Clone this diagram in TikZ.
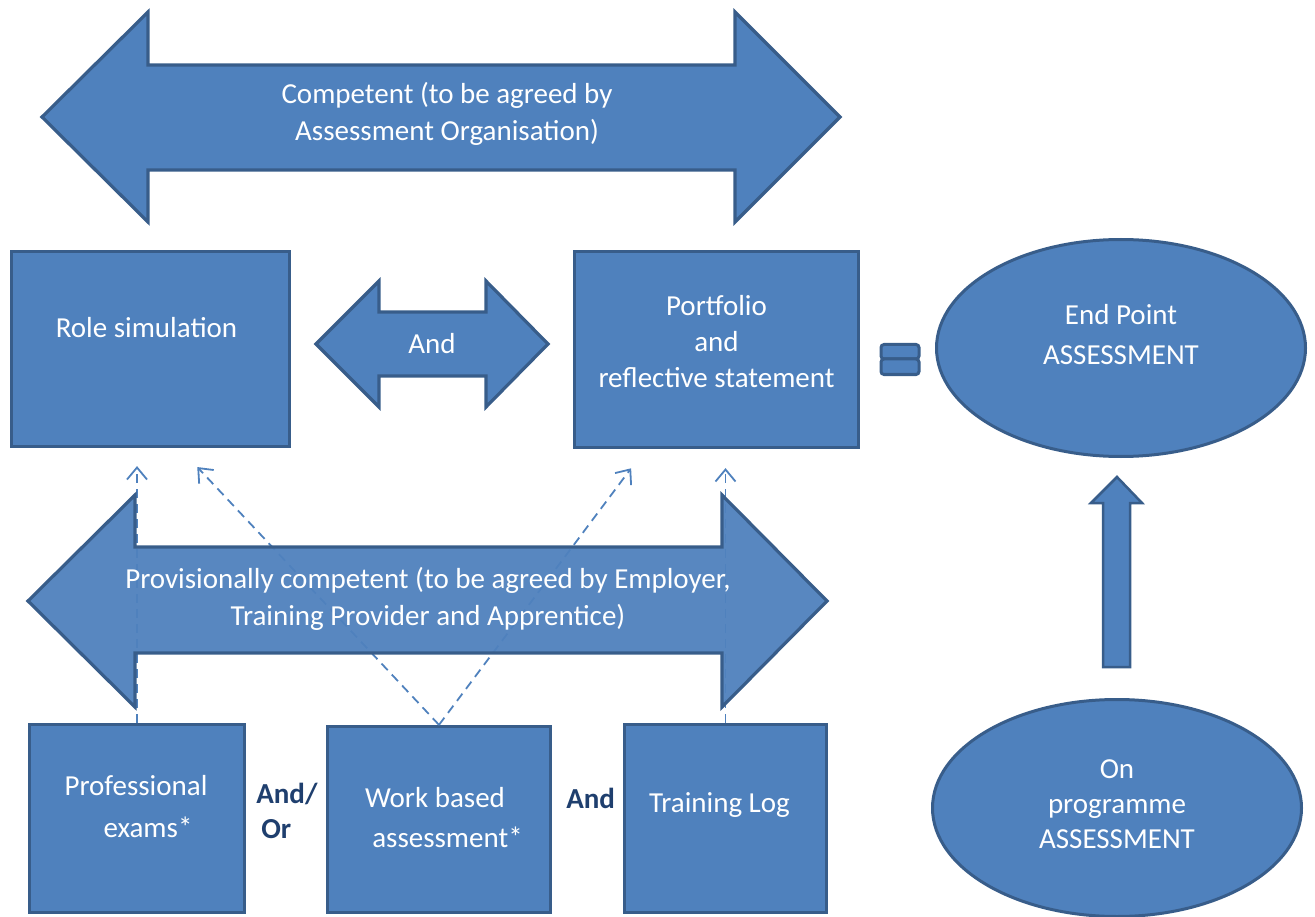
\documentclass[tikz,border=0pt]{standalone}
\usepackage{fontspec}
\setmainfont{Carlito}
\usepackage{xcolor}
\definecolor{ShapeBlue}{HTML}{4F81BD}
\definecolor{ShapeEdge}{HTML}{385D8A}
\definecolor{NavyText}{HTML}{1F3F6E}
\usepackage{tikz}
\usetikzlibrary{arrows.meta,positioning,shapes.geometric}

\begin{document}
\begin{tikzpicture}[
  x=1pt, y=-1pt,
  box/.style={rectangle, draw=ShapeEdge, fill=ShapeBlue, line width=3.2pt, inner sep=0pt},
  oval/.style={ellipse, draw=ShapeEdge, fill=ShapeBlue, line width=3pt, inner sep=0pt, minimum width=369pt, minimum height=217pt},
  txt/.style={text=white, align=center, font=\fontsize{29}{37}\selectfont},
  bigarrow/.style={draw=ShapeEdge, fill=ShapeBlue, line width=3.2pt},
  eqbar/.style={draw=ShapeEdge, fill=ShapeBlue, line width=3pt, rounded corners=3pt},
  link/.style={dash pattern=on 9pt off 6pt, line width=1.8pt, draw=ShapeBlue, -{Straight Barb[length=12pt,width=20pt]}},
  joiner/.style={font=\bfseries\fontsize{29}{35}\selectfont, text=NavyText, align=left, inner sep=0pt},
]
\useasboundingbox (0,0) rectangle (1315,917);

% competent arrow
\draw[bigarrow] (42,117) -- (148,12) -- (148,65) -- (735,65) -- (735,12) -- (840,117)
  -- (735,222) -- (735,170) -- (148,170) -- (148,222) -- cycle;
\node[txt] (competent) at (447,114) {Competent (to be agreed by\\Assessment Organisation)};

% middle row
\node[box, minimum width=278pt, minimum height=195pt,
  label={[txt, xshift=-4pt, yshift=21pt]center:Role simulation}] (rolesim) at (150.5,349) {};
\node[box, minimum width=284pt, minimum height=196pt,
  label={[txt, yshift=8pt, font=\fontsize{29}{36}\selectfont]center:Portfolio\\and\\reflective statement}] (portfolio) at (716.5,349.5) {};
\draw[bigarrow] (316,344) -- (379,281) -- (379,312) -- (486,312) -- (486,281) -- (548,344)
  -- (486,407) -- (486,376) -- (379,376) -- (379,407) -- cycle;
\node[txt] (andlink) at (432,344) {And};
\draw[eqbar] (881,344.5) rectangle (919,359);
\draw[eqbar] (881,359) rectangle (919,374.5);
\node[oval, label={[txt, yshift=13pt, font=\fontsize{29}{40}\selectfont]center:End Point\\ASSESSMENT}] (endpoint) at (1121,348) {};

% bottom row
\node[box, minimum width=215pt, minimum height=188pt,
  label={[txt, xshift=-1pt, yshift=12pt, font=\fontsize{29}{42}\selectfont]center:Professional\\\hspace*{24pt}exams*}] (pexam) at (137,818.5) {};
\node[box, minimum width=223pt, minimum height=186pt,
  label={[txt, xshift=-4pt, yshift=2pt, font=\fontsize{29}{40}\selectfont]center:Work based\\\hspace*{25pt}assessment*}] (wba) at (439,819.5) {};
\node[box, minimum width=202pt, minimum height=188pt,
  label={[txt, xshift=-6pt, yshift=13pt]center:Training Log}] (tlog) at (725.5,818.5) {};
\node[joiner, right=10pt of pexam.east, yshift=8pt] (andor) {And/\\\hspace*{5pt}Or};
\node[joiner, right=14pt of wba.east, yshift=21pt] (andtwo) {And};

% dashed links
\draw[link, shorten >=18pt] (pexam.north) -- (pexam.north |- rolesim.south);
\draw[link, shorten >=26pt] (wba.north) -- ([xshift=29pt]rolesim.south);
\draw[link, shorten >=24pt] (wba.north) -- ([xshift=-71pt]portfolio.south);
\draw[link, shorten >=19pt] (tlog.north) -- (tlog.north |- portfolio.south);

% provisionally competent arrow
\draw[bigarrow, fill opacity=0.95] (28,601) -- (135,495) -- (135,547) -- (722,547) -- (722,495) -- (827,601)
  -- (722,707) -- (722,653) -- (135,653) -- (135,707) -- cycle;
\node[txt] (provisional) at (428,599) {Provisionally competent (to be agreed by Employer,\\Training Provider and Apprentice)};

% on programme
\node[oval, label={[txt, yshift=4pt, font=\fontsize{29}{35}\selectfont]center:On\\programme\\ASSESSMENT}] (onprog) at (1117,808) {};
\draw[bigarrow, line width=2.5pt] (1117,477) -- (1142,503) -- (1130,503) -- (1130,667) -- (1103,667)
  -- (1103,503) -- (1091,503) -- cycle;
\end{tikzpicture}
\end{document}
